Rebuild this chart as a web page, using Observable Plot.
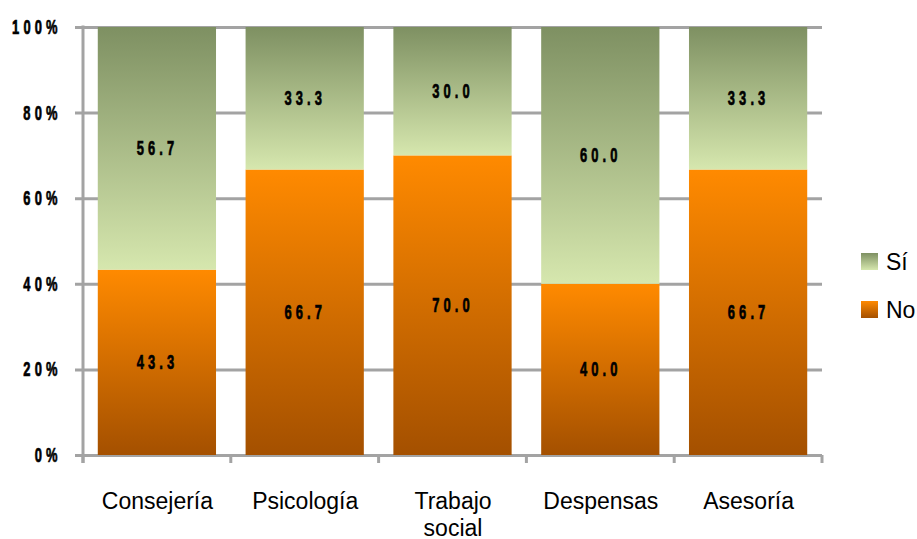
<!DOCTYPE html>
<html><head><meta charset="utf-8">
<script src="https://cdn.jsdelivr.net/npm/d3@7"></script>
<script src="https://cdn.jsdelivr.net/npm/@observablehq/plot@0.6"></script>
<style>
body{margin:0;background:#fff;}
#chart{position:relative;width:917px;height:539px;}
</style></head><body><div id="chart"></div>
<script>
const categories = ["Consejería","Psicología","Trabajo social","Despensas","Asesoría"];
const noValues = [43.3, 66.7, 70.0, 40.0, 66.7];
const siValues = [56.7, 33.3, 30.0, 60.0, 33.3];
const yTicks = [0, 20, 40, 60, 80, 100];
const seriesNames = ["Sí", "No"];

const rows = categories.map((c, i) => ({cat: c, no: noValues[i], si: siValues[i]}));
const gray = "#a3a3a3";
const numFont = "'Liberation Sans',Arial,sans-serif";
const txtFont = "'Liberation Sans',Arial,sans-serif";

const plot = Plot.plot({
  width: 917, height: 539,
  marginLeft: 83, marginRight: 95, marginTop: 27, marginBottom: 84,
  x: {domain: categories, paddingInner: 0.2, paddingOuter: 0.1, round: false, label: null},
  y: {domain: [0, 100], label: null},
  style: {background: "white", overflow: "visible"},
  marks: [
    Plot.ruleY(yTicks, {stroke: gray, strokeWidth: 3, insetLeft: -8}),
    Plot.barY(rows, {x: "cat", y1: 0, y2: "no", fill: "url(#gNo)"}),
    Plot.barY(rows, {x: "cat", y1: "no", y2: d => d.no + d.si, fill: "url(#gSi)"}),
    Plot.text(rows, {x: "cat", y: d => d.no / 2, text: d => d.no.toFixed(1), fontFamily: numFont, fontWeight: "bold", fontSize: 20.5, fill: "black"}),
    Plot.text(rows, {x: "cat", y: d => d.no + d.si / 2, text: d => d.si.toFixed(1), fontFamily: numFont, fontWeight: "bold", fontSize: 20.5, fill: "black"}),
    Plot.axisY({ticks: yTicks, tickSize: 0, tickPadding: 22, tickFormat: d => d + "%", fontSize: 20.5, fontWeight: "bold", fontFamily: numFont, fill: "black"}),
    Plot.axisX({tickSize: 0, tickPadding: 35, fontSize: 23, lineHeight: 1.15, tickFormat: d => d.replace(" ", "\n"), fontFamily: txtFont, fill: "black"})
  ]
});

const svg = d3.select(plot);
const defs = svg.insert("defs", ":first-child");
function grad(id, top, bottom) {
  const g = defs.append("linearGradient").attr("id", id).attr("x1", 0).attr("y1", 0).attr("x2", 0).attr("y2", 1);
  g.append("stop").attr("offset", "0%").attr("stop-color", top);
  g.append("stop").attr("offset", "100%").attr("stop-color", bottom);
}
grad("gNo", "#ff8a00", "#a45000");
grad("gSi", "#7e9062", "#d6e7ae");

// condensed, heavy look for numeric labels: letter-spacing + horizontal squeeze around the anchor
svg.selectAll("text").filter(function() { return /^\d+(\.\d)?%?$/.test(this.textContent.trim()); }).each(function() {
  const t = d3.select(this);
  const tr = t.attr("transform") || "";
  t.style("letter-spacing", "6.5px")
   .attr("stroke", "black").attr("stroke-width", 0.7)
   .attr("transform", `${tr} scale(0.63,1)`);
});

// axis line and category boundary ticks from the scales
const xs = plot.scale("x"), ys = plot.scale("y");
const x0 = xs.range[0];
const y0 = ys.apply(0), yTop = ys.apply(100);
const axisG = svg.append("g").attr("stroke", gray).attr("stroke-width", 3);
axisG.append("line").attr("x1", x0).attr("x2", x0).attr("y1", yTop - 1.5).attr("y2", y0 + 8);
for (let i = 0; i <= categories.length; i++) {
  const bx = x0 + i * xs.step;
  axisG.append("line").attr("x1", bx).attr("x2", bx).attr("y1", y0).attr("y2", y0 + 8);
}

// legend
const leg = svg.append("g").attr("font-family", txtFont).attr("font-size", 23).attr("text-anchor", "start");
seriesNames.forEach((s, i) => {
  const ly = 253 + i * 48;
  leg.append("rect").attr("x", 861).attr("y", ly).attr("width", 17).attr("height", 17).attr("fill", s === "No" ? "url(#gNo)" : "url(#gSi)");
  leg.append("text").attr("x", 886).attr("y", ly + 17).attr("fill", "black").text(s);
});

document.getElementById("chart").appendChild(plot);
</script></body></html>
